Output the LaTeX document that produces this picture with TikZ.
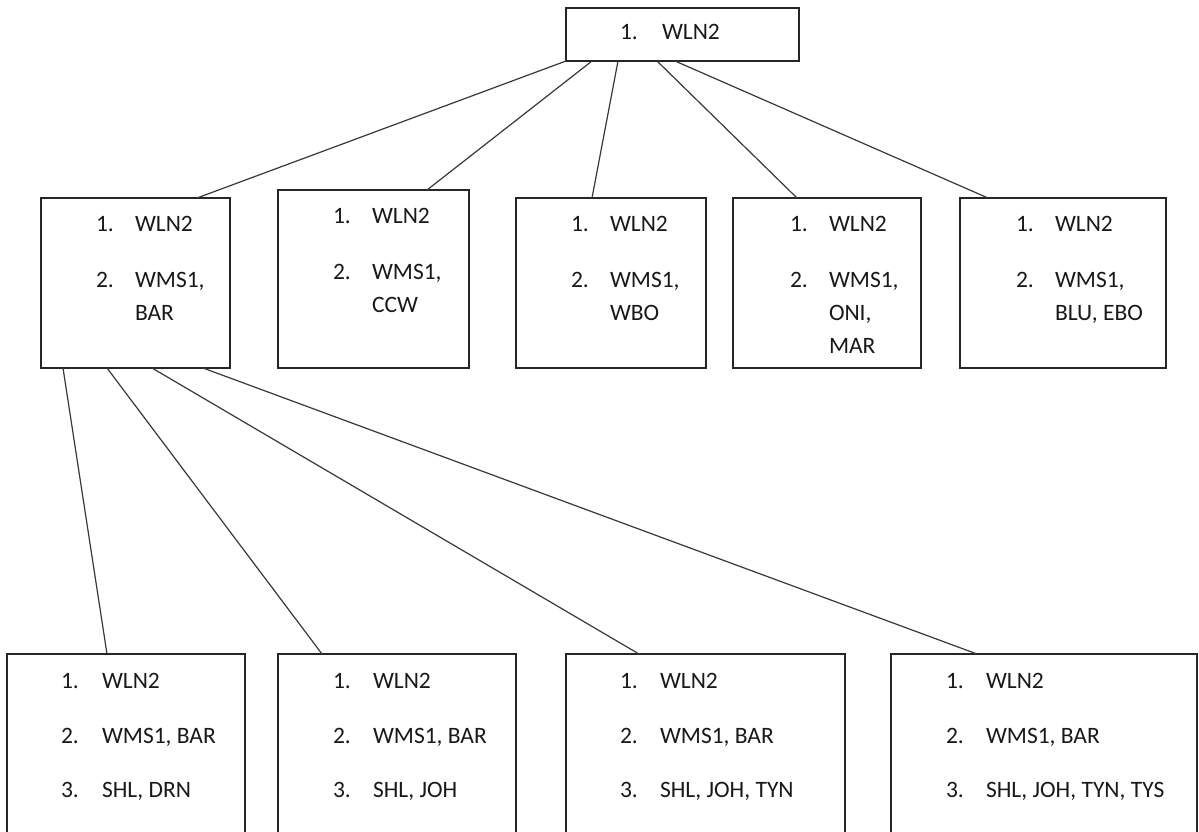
\documentclass[tikz,border=0pt]{standalone}
\usepackage{fontspec}
\setmainfont{Carlito}
\begin{document}
\begin{tikzpicture}[x=1pt,y=-1pt,
  box/.style={draw=black!85, line width=1.4pt, inner sep=0pt, outer sep=0pt, anchor=north west, fill=none},
  conn/.style={draw=black!78, line width=1.2pt},
  txt/.style={anchor=base west, inner sep=0pt, outer sep=0pt, text=black!90, font=\fontsize{23.5}{28}\selectfont}]
\useasboundingbox (0,0) rectangle (1199,832);
\fill[white] (0,0) rectangle (1199,832);
% boxes
\node[box, minimum width=233pt, minimum height=53pt] (t) at (566,8) {};
\node[box, minimum width=189pt, minimum height=170pt] (a) at (41,198) {};
\node[box, minimum width=191pt, minimum height=178pt] (b) at (278,190) {};
\node[box, minimum width=190pt, minimum height=170pt] (c) at (516,198) {};
\node[box, minimum width=188pt, minimum height=170pt] (d) at (733,198) {};
\node[box, minimum width=206pt, minimum height=170pt] (e) at (960,198) {};
\node[box, minimum width=238pt, minimum height=200pt] (f) at (7,654) {};
\node[box, minimum width=238pt, minimum height=200pt] (g) at (278,654) {};
\node[box, minimum width=279pt, minimum height=200pt] (h) at (566,654) {};
\node[box, minimum width=306pt, minimum height=200pt] (i) at (891,654) {};
% connectors
\draw[conn] ([xshift=0pt]t.south west) -- ([xshift=156pt]a.north west);
\draw[conn] ([xshift=26pt]t.south west) -- ([xshift=149pt]b.north west);
\draw[conn] ([xshift=52pt]t.south west) -- ([xshift=76pt]c.north west);
\draw[conn] ([xshift=91pt]t.south west) -- ([xshift=64pt]d.north west);
\draw[conn] ([xshift=109pt]t.south west) -- ([xshift=28pt]e.north west);
\draw[conn] ([xshift=22pt]a.south west) -- ([xshift=100pt]f.north west);
\draw[conn] ([xshift=66pt]a.south west) -- ([xshift=44pt]g.north west);
\draw[conn] ([xshift=111pt]a.south west) -- ([xshift=73pt]h.north west);
\draw[conn] ([xshift=162pt]a.south west) -- ([xshift=86pt]i.north west);
% texts top
\node[txt] (t1n) at (620,40) {1.};
\node[txt] (t1t) at (662,40) {WLN2};
% A
\node[txt] (a1n) at (96,231) {1.};
\node[txt] (a1t) at (135,231) {WLN2};
\node[txt] (a2n) at (96,287) {2.};
\node[txt] (a2t) at (135,287) {WMS1,};
\node[txt] (a3t) at (135,320) {BAR};
% B
\node[txt] (b1n) at (333,223) {1.};
\node[txt] (b1t) at (372,223) {WLN2};
\node[txt] (b2n) at (333,279) {2.};
\node[txt] (b2t) at (372,279) {WMS1,};
\node[txt] (b3t) at (372,312) {CCW};
% C
\node[txt] (c1n) at (571,231) {1.};
\node[txt] (c1t) at (610,231) {WLN2};
\node[txt] (c2n) at (571,287) {2.};
\node[txt] (c2t) at (610,287) {WMS1,};
\node[txt] (c3t) at (610,320) {WBO};
% D
\node[txt] (d1n) at (790,231) {1.};
\node[txt] (d1t) at (829,231) {WLN2};
\node[txt] (d2n) at (790,287) {2.};
\node[txt] (d2t) at (829,287) {WMS1,};
\node[txt] (d3t) at (829,320) {ONI,};
\node[txt] (d4t) at (829,353) {MAR};
% E
\node[txt] (e1n) at (1016,231) {1.};
\node[txt] (e1t) at (1055,231) {WLN2};
\node[txt] (e2n) at (1016,287) {2.};
\node[txt] (e2t) at (1055,287) {WMS1,};
\node[txt] (e3t) at (1055,320) {BLU, EBO};
% F
\node[txt] (f1n) at (61,688) {1.};
\node[txt] (f1t) at (102,688) {WLN2};
\node[txt] (f2n) at (61,743) {2.};
\node[txt] (f2t) at (102,743) {WMS1, BAR};
\node[txt] (f3n) at (61,797) {3.};
\node[txt] (f3t) at (102,797) {SHL, DRN};
% G
\node[txt] (g1n) at (333,688) {1.};
\node[txt] (g1t) at (373,688) {WLN2};
\node[txt] (g2n) at (333,743) {2.};
\node[txt] (g2t) at (373,743) {WMS1, BAR};
\node[txt] (g3n) at (333,797) {3.};
\node[txt] (g3t) at (373,797) {SHL, JOH};
% H
\node[txt] (h1n) at (620,688) {1.};
\node[txt] (h1t) at (660,688) {WLN2};
\node[txt] (h2n) at (620,743) {2.};
\node[txt] (h2t) at (660,743) {WMS1, BAR};
\node[txt] (h3n) at (620,797) {3.};
\node[txt] (h3t) at (660,797) {SHL, JOH, TYN};
% I
\node[txt] (i1n) at (946,688) {1.};
\node[txt] (i1t) at (986,688) {WLN2};
\node[txt] (i2n) at (946,743) {2.};
\node[txt] (i2t) at (986,743) {WMS1, BAR};
\node[txt] (i3n) at (946,797) {3.};
\node[txt] (i3t) at (986,797) {SHL, JOH, TYN, TYS};
\end{tikzpicture}
\end{document}
